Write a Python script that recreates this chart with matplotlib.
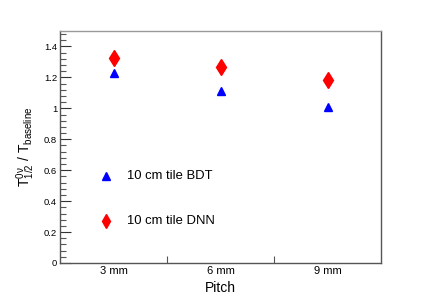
import matplotlib.pyplot as plt
from matplotlib.ticker import MultipleLocator, FixedLocator, NullLocator

plt.rcParams['font.family'] = ['Liberation Sans', 'DejaVu Sans']
plt.rcParams['mathtext.fontset'] = 'custom'
plt.rcParams['mathtext.rm'] = 'Liberation Sans'
plt.rcParams['mathtext.it'] = 'Liberation Sans'

pitches = ['3 mm', '6 mm', '9 mm']
bdt = [1.23, 1.114, 1.006]
dnn = [1.327, 1.269, 1.185]

fig = plt.figure(figsize=(4.24, 3.06), dpi=100)
ax = fig.add_axes([60 / 424, 1 - 263 / 306, 321 / 424, 232 / 306])

xs = [i + 0.5 for i in range(len(pitches))]
ax.plot(xs, bdt, ls='none', marker='^', color='#0000ff', ms=6.2)
ax.plot(xs, dnn, ls='none', marker='d', color='#ff0000', ms=7.8)

# legend drawn by hand in axes coords, like ROOT TLegend
ax.plot([0.143], [0.375], transform=ax.transAxes, ls='none', marker='^',
        color='#0000ff', ms=5.5, clip_on=False)
ax.plot([0.143], [0.18], transform=ax.transAxes, ls='none', marker='d',
        color='#ff0000', ms=7, clip_on=False)
ax.text(0.21, 0.375, '10 cm tile BDT', transform=ax.transAxes, va='center', fontsize=9.4)
ax.text(0.21, 0.18, '10 cm tile DNN', transform=ax.transAxes, va='center', fontsize=9.4)

ax.set_xlim(0, 3)
ax.set_ylim(0, 1.5)
ax.xaxis.set_major_locator(FixedLocator([1, 2]))
ax.xaxis.set_minor_locator(NullLocator())
ax.set_xticklabels([])
for x, lab in zip(xs, pitches):
    ax.text(x, -7.7 / 232, lab, ha='center', va='center', fontsize=8,
            transform=ax.get_xaxis_transform())
ax.tick_params(axis='x', direction='in', length=5, width=0.8, color='#555555')

ax.yaxis.set_major_locator(MultipleLocator(0.2))
ax.yaxis.set_minor_locator(MultipleLocator(0.04))
ax.set_yticks([0, 0.2, 0.4, 0.6, 0.8, 1.0, 1.2, 1.4])
ax.set_yticklabels(['0', '0.2', '0.4', '0.6', '0.8', '1', '1.2', '1.4'])
ax.tick_params(axis='y', which='major', direction='in', length=8, width=0.8,
               labelsize=6.8, pad=2, color='#333333')
ax.tick_params(axis='y', which='minor', direction='in', length=4, width=0.8,
               color='#555555')

ax.text(0.5, -25 / 232, 'Pitch', ha='center', va='center', fontsize=10,
        transform=ax.transAxes)
ax.set_ylabel(r'$\mathregular{T^{0\nu}_{1/2}}$ / $\mathregular{T_{baseline}}$',
              fontsize=10, labelpad=0)
ax.yaxis.set_label_coords(-23 / 321, 0.5)

for s in ax.spines.values():
    s.set_color('#555555')
    s.set_linewidth(1.0)
ax.spines['top'].set_color('#999999')

fig.savefig('out.png', dpi=100)
